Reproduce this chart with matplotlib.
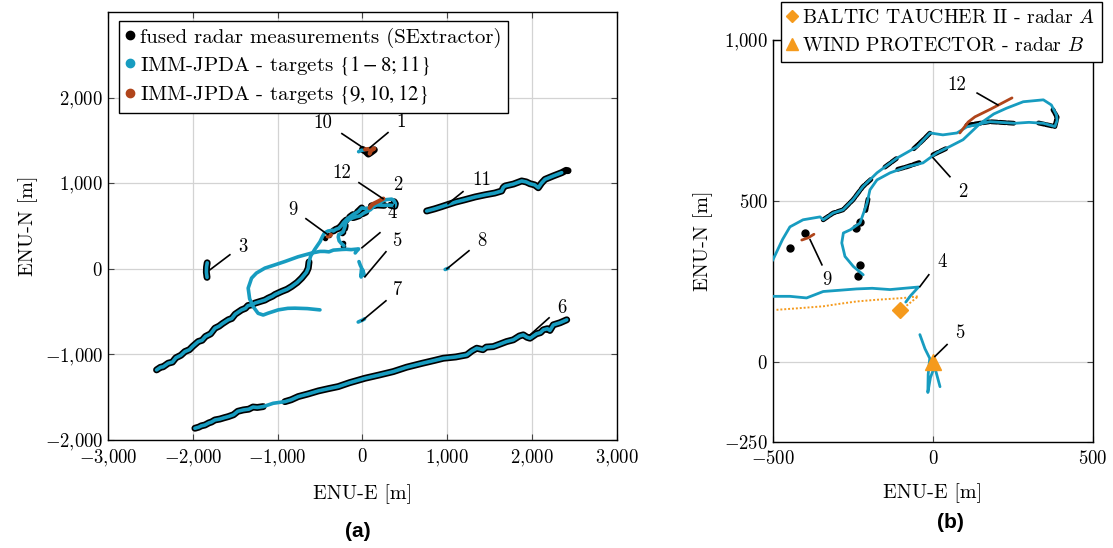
import numpy as np
import matplotlib
matplotlib.use('Agg')
import matplotlib.pyplot as plt
from matplotlib.lines import Line2D

plt.rcParams['font.family'] = 'cmr10'
plt.rcParams['mathtext.fontset'] = 'cm'
plt.rcParams['axes.formatter.use_mathtext'] = True

CYAN = '#179cc0'
BROWN = '#b0451b'
ORANGE = '#f59a1c'

# tracker output, (E, N) in metres
trk2 = [(-2427, -1181), (-2380, -1150), (-2350, -1145), (-2290, -1103), (-2240, -1090),
        (-2200, -1040), (-2140, -1010), (-2093, -967), (-2040, -945), (-2000, -905),
        (-1936, -850), (-1890, -835), (-1850, -790), (-1790, -760), (-1739, -694),
        (-1690, -670), (-1650, -640), (-1582, -596), (-1540, -580), (-1500, -530),
        (-1425, -480), (-1380, -462), (-1350, -430), (-1300, -420), (-1268, -401),
        (-1200, -380), (-1150, -365), (-1111, -343), (-1060, -320), (-1030, -300),
        (-953, -265), (-890, -240), (-835, -207), (-770, -160), (-717, -109),
        (-660, -40), (-639, 8), (-630, 80), (-610, 150), (-560, 230), (-500, 317),
        (-470, 380), (-447, 419), (-406, 441), (-353, 450), (-343, 441), (-312, 462),
        (-281, 472), (-250, 503), (-219, 544), (-175, 587), (-112, 633), (-50, 668),
        (-9, 711), (31, 705), (75, 711), (106, 730), (178, 746), (256, 741),
        (300, 744), (345, 741), (381, 731), (388, 750), (386, 767), (370, 798),
        (345, 814), (282, 808), (230, 788), (190, 770), (147, 740), (94, 690),
        (53, 669), (12, 649), (-31, 618), (-81, 606), (-134, 587), (-175, 565),
        (-197, 534), (-206, 493), (-228, 431), (-258, 410), (-280, 400), (-285, 369),
        (-275, 327), (-249, 296), (-218, 270)]
trk4 = [(-85, 185), (-70, 205), (-45, 232), (-90, 228), (-134, 224), (-190, 228),
        (-239, 226), (-290, 222), (-343, 218), (-395, 198), (-447, 203), (-500, 203),
        (-599, 184), (-760, 140), (-914, 85), (-1050, 40), (-1150, 8), (-1250, -50),
        (-1307, -109), (-1347, -226), (-1330, -350), (-1290, -440), (-1230, -520),
        (-1170, -540), (-1111, -518), (-993, -480), (-880, -462), (-796, -460),
        (-650, -465), (-501, -480)]
trk6 = [(-1975, -1863), (-1930, -1850), (-1900, -1835), (-1857, -1825), (-1810, -1800),
        (-1780, -1790), (-1739, -1766), (-1680, -1755), (-1630, -1740), (-1582, -1727),
        (-1520, -1705), (-1470, -1665), (-1405, -1649), (-1340, -1640), (-1290, -1615),
        (-1240, -1620), (-1170, -1610), (-1052, -1571), (-914, -1552), (-840, -1530),
        (-757, -1493), (-640, -1462), (-521, -1427), (-400, -1400), (-285, -1376),
        (-150, -1330), (29, -1279), (200, -1240), (363, -1201), (520, -1150),
        (700, -1105), (850, -1070), (953, -1045), (1100, -1030), (1229, -1006),
        (1290, -960), (1347, -928), (1420, -945), (1460, -915), (1542, -909),
        (1620, -880), (1700, -850), (1778, -830), (1850, -785), (1896, -772),
        (1940, -800), (1975, -811), (2050, -760), (2100, -745), (2132, -713),
        (2180, -700), (2210, -720), (2250, -655), (2330, -630), (2408, -596)]
trk11 = [(757, 675), (850, 700), (930, 725), (1012, 752), (1100, 780), (1200, 805),
         (1327, 839), (1450, 865), (1560, 885), (1641, 909), (1660, 950), (1680, 967),
         (1780, 990), (1877, 1026), (1930, 1015), (1975, 994), (2030, 980), (2073, 947),
         (2110, 1000), (2152, 1045), (2250, 1085), (2349, 1123)]
trk3 = [(-1830, 70), (-1838, 20), (-1840, -40), (-1832, -100)]
trk5 = [(-41, 84), (-25, 40), (-10, 10), (-15, -40), (-16, -96), (-8, -50), (5, -15), (22, -78)]
trk7 = [(-50, -622), (-20, -608), (10, -595), (25, -585)]
trk8 = [(975, -8), (995, 0), (1010, 6)]
trk1 = [(-45, 1368), (-10, 1385), (20, 1390)]
trk9 = [(-410, 378), (-390, 385), (-372, 396)]
trk10 = [(30, 1395), (80, 1400), (140, 1405), (100, 1380), (85, 1345)]
trk12 = [(84, 711), (110, 745), (131, 761), (180, 785), (247, 820)]

# fused radar measurements (SExtractor)
meas = [trk2[:38], trk6[:17], trk6[18:], trk11 + [(2400, 1150), (2424, 1146)], trk3,
        [(0, 1395), (40, 1370), (70, 1340), (100, 1360), (140, 1390)],
        [(-343, 441), (-312, 462), (-281, 472), (-250, 503), (-219, 544), (-190, 570)],
        [(-150, 605), (-112, 633)], [(-60, 662), (-30, 690), (-9, 711)],
        [(106, 735), (178, 746), (256, 741)], [(330, 742), (381, 731), (388, 760), (375, 783)],
        [(-110, 598), (-81, 606), (-40, 620)], [(0, 643), (40, 662)], [(-203, 505), (-210, 470)]]
meas_dots = [(-400, 400), (-447, 354), (-228, 301), (-233, 265), (-239, 415), (-228, 435)]

# own ships
radar_a_trk = [(-489, 161), (-420, 166), (-343, 172), (-290, 180), (-239, 187), (-180, 192),
               (-134, 195), (-90, 198), (-46, 203), (-65, 188), (-85, 172), (-103, 161)]
radar_a = (-103, 161)
radar_b = (0, 0)

# target labels: text position, leader line start, leader line end
labels_a = [('10', (-466, 1708), (-242, 1579), (6, 1415)),
            ('1', (454, 1719), (301, 1591), (88, 1415)),
            ('12', (-242, 1123), (-41, 1006), (242, 819)),
            ('2', (419, 982), None, None),
            ('9', (-820, 690), (-666, 585), (-407, 398)),
            ('4', (348, 655), (206, 421), (-6, 246)),
            ('5', (407, 327), (277, 199), (29, -94)),
            ('3', (-1409, 257), (-1563, 164), (-1798, -12)),
            ('7', (419, -246), (277, -374), (-6, -608)),
            ('8', (1409, 327), (1256, 211), (996, 0)),
            ('11', (1409, 1041), (1185, 901), (1008, 760)),
            ('6', (2353, -456), (2200, -573), (1976, -772))]
labels_b = [('12', (75, 860), (138, 835), (203, 798)),
            ('2', (94, 528), (53, 575), (0, 634)),
            ('9', (-331, 255), (-347, 301), (-384, 379)),
            ('4', (28, 311), (-13, 270), (-41, 233)),
            ('5', (84, 90), (44, 53), (6, 16))]

cyan_trks = [trk2, trk4, trk6, trk11, trk3, trk5, trk7, trk8, trk1]
brown_trks = [trk9, trk10, trk12]


def xy(pts):
    a = np.array(pts, dtype=float)
    return a[:, 0], a[:, 1]


def tick_fmt(v):
    s = f'{abs(v):,}'.replace(',', '{,}')
    return ('$-' if v < 0 else '$') + s + '$'


def style(ax, xt, yt, xlim, ylim):
    ax.set_xlim(*xlim)
    ax.set_ylim(*ylim)
    ax.set_xticks(xt)
    ax.set_yticks(yt)
    ax.set_xticklabels([tick_fmt(v) for v in xt])
    ax.set_yticklabels([tick_fmt(v) for v in yt])
    ax.grid(True, color='#d3d3d3', lw=0.9)
    ax.set_axisbelow(True)
    ax.tick_params(direction='in', top=True, right=True, length=4, labelsize=13.5,
                   color='#444444')
    ax.tick_params(axis='x', pad=6)
    for s in ax.spines.values():
        s.set_linewidth(1.0)
    ax.set_xlabel('ENU-E [m]', fontsize=14.5, labelpad=11)
    ax.set_ylabel('ENU-N [m]', fontsize=14.5, labelpad=5)


def annotate(ax, labels):
    for txt, tp, p0, p1 in labels:
        if p0 is not None:
            ax.plot([p0[0], p1[0]], [p0[1], p1[1]], color='k', lw=1.2, zorder=6)
        ax.text(tp[0], tp[1], txt, fontsize=13.5, ha='center', va='center', zorder=7)


fig = plt.figure(figsize=(11.13, 5.48), dpi=100)

# (a) full scene
ax1 = fig.add_axes([0.0970, 0.1971, 0.4573, 0.7810])
for m in meas:
    x, y = xy(m)
    ax1.plot(x, y, color='k', lw=5.0, solid_capstyle='round', solid_joinstyle='round', zorder=2)
x, y = xy(meas_dots)
ax1.plot(x, y, 'o', color='k', ms=3, zorder=2)
for t in cyan_trks:
    x, y = xy(t)
    ax1.plot(x, y, color=CYAN, lw=2.6, solid_capstyle='round', solid_joinstyle='round', zorder=3)
for t in brown_trks:
    x, y = xy(t)
    ax1.plot(x, y, color=BROWN, lw=3.0, solid_capstyle='round', zorder=4)
annotate(ax1, labels_a)
style(ax1, [-3000, -2000, -1000, 0, 1000, 2000, 3000], [-2000, -1000, 0, 1000, 2000],
      (-3000, 3000), (-2000, 3000))

h1 = [Line2D([], [], ls='', marker='o', color='k', ms=6),
      Line2D([], [], ls='', marker='o', color=CYAN, ms=6),
      Line2D([], [], ls='', marker='o', color=BROWN, ms=6)]
leg1 = ax1.legend(h1, ['fused radar measurements (SExtractor)',
                       r'IMM-JPDA - targets $\{1-8;11\}$',
                       r'IMM-JPDA - targets $\{9,10,12\}$'],
                  loc='upper left', bbox_to_anchor=(0.022, 0.978), fontsize=15,
                  handlelength=0.4, handletextpad=0.3, borderpad=0.3, labelspacing=0.3,
                  borderaxespad=0, fancybox=False, edgecolor='k', framealpha=1)
for t in leg1.get_texts():
    t.set_math_fontfamily('stix')
leg1.get_frame().set_linewidth(1.0)
leg1.set_zorder(10)

# (b) zoom on the two radar platforms
ax2 = fig.add_axes([0.6945, 0.1934, 0.2875, 0.7336])
x, y = xy(radar_a_trk)
ax2.plot(x, y, color=ORANGE, lw=1.4, ls=(0, (1, 1)), zorder=3)
for m in meas[5:]:
    x, y = xy(m)
    ax2.plot(x, y, color='k', lw=3.5, ls=(0, (1.2, 0.5)), solid_capstyle='round',
             dash_capstyle='round', zorder=2)
x, y = xy(meas_dots)
ax2.plot(x, y, 'o', color='k', ms=5, zorder=2)
for t in cyan_trks:
    x, y = xy(t)
    ax2.plot(x, y, color=CYAN, lw=2.0, solid_capstyle='round', zorder=3)
for t in brown_trks:
    x, y = xy(t)
    ax2.plot(x, y, color=BROWN, lw=2.0, solid_capstyle='round', zorder=4)
ax2.plot(*radar_a, 'D', color=ORANGE, ms=8, zorder=5)
ax2.plot(*radar_b, '^', color=ORANGE, ms=11, zorder=5)
annotate(ax2, labels_b)
style(ax2, [-500, 0, 500], [-250, 0, 500, 1000], (-500, 500), (-250, 1000))
ax2.set_ylabel('ENU-N [m]', fontsize=14.5, labelpad=8)

h2 = [Line2D([], [], ls='', marker='D', color=ORANGE, ms=6),
      Line2D([], [], ls='', marker='^', color=ORANGE, ms=8)]
leg2 = ax2.legend(h2, ['BALTIC TAUCHER II - radar $A$', 'WIND PROTECTOR - radar $B$'],
                  loc='upper left', bbox_to_anchor=(0.7017, 0.9964),
                  bbox_transform=fig.transFigure, fontsize=14.2,
                  handlelength=0.4, handletextpad=0.3, borderpad=0.35, labelspacing=0.5,
                  borderaxespad=0, fancybox=False, edgecolor='k', framealpha=1)
leg2.get_frame().set_linewidth(1.0)
leg2.set_zorder(10)

fig.text(0.3217, 0.0292, '(a)', fontsize=15, fontweight='bold', family='Liberation Sans',
         ha='center', va='center')
fig.text(0.8536, 0.0474, '(b)', fontsize=15, fontweight='bold', family='Liberation Sans',
         ha='center', va='center')

fig.savefig('out.png', dpi=100)
